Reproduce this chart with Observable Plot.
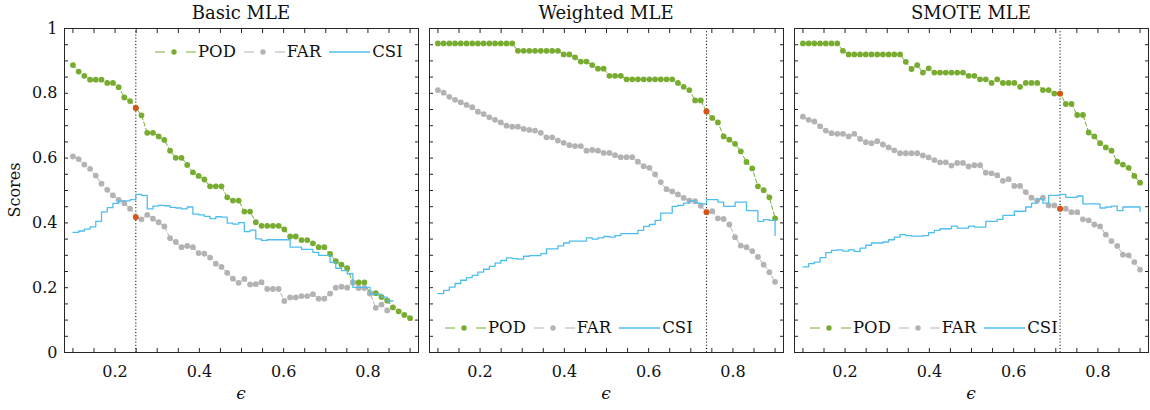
<!DOCTYPE html>
<html>
<head>
<meta charset="utf-8">
<script src="https://cdn.jsdelivr.net/npm/d3@7"></script>
<script src="https://cdn.jsdelivr.net/npm/@observablehq/plot@0.6"></script>
<style>
  body { margin: 0; background: #fff; }
  #wrap { position: relative; width: 1150px; height: 410px; font-family: "DejaVu Serif", serif; color: #111; overflow: hidden; }
  .panel { position: absolute; top: 0; }
  .title { position: absolute; top: 0; font-size: 18px; line-height: 26px; transform: translateX(-50%); white-space: nowrap; }
  .xlab { position: absolute; top: 383px; font-family: "DejaVu Serif", serif; font-style: italic; font-size: 17px; line-height: 20px; transform: translateX(-50%); }
  .ylab { position: absolute; left: 15px; top: 190px; font-size: 16px; line-height: 20px; transform: translate(-50%, -50%) rotate(-90deg); white-space: nowrap; }
  .leg { position: absolute; display: flex; align-items: center; font-size: 16.5px; line-height: 22px; white-space: nowrap; }
  .leg .item { display: flex; align-items: center; margin-right: 8px; }
  .leg svg { margin-right: 2px; }
</style>
</head>
<body>
<div id="wrap"></div>
<script>
// ---------- data ----------
const eps = [0.1000,0.1136,0.1271,0.1407,0.1542,0.1678,0.1814,0.1949,0.2085,0.2220,
  0.2356,0.2492,0.2627,0.2763,0.2898,0.3034,0.3169,0.3305,0.3441,0.3576,
  0.3712,0.3847,0.3983,0.4119,0.4254,0.4390,0.4525,0.4661,0.4797,0.4932,
  0.5068,0.5203,0.5339,0.5475,0.5610,0.5746,0.5881,0.6017,0.6153,0.6288,
  0.6424,0.6559,0.6695,0.6831,0.6966,0.7102,0.7237,0.7373,0.7508,0.7644,
  0.7780,0.7915,0.8051,0.8186,0.8322,0.8458,0.8593,0.8729,0.8864,0.9000];

const titles = ["Basic MLE", "Weighted MLE", "SMOTE MLE"];
const seriesNames = ["POD", "FAR", "CSI"];
const selectedEps = [0.2492, 0.7373, 0.7102];

const podBasic = [0.887,0.867,0.854,0.842,0.842,0.842,0.832,0.832,0.819,0.787,
  0.776,0.755,0.732,0.678,0.678,0.667,0.656,0.623,0.601,0.601,
  0.579,0.556,0.545,0.534,0.513,0.513,0.513,0.479,0.469,0.469,
  0.435,0.435,0.402,0.391,0.391,0.391,0.391,0.380,0.358,0.358,
  0.347,0.347,0.337,0.325,0.325,0.304,0.282,0.271,0.260,0.216,
  0.216,0.216,0.183,0.183,0.171,0.160,0.139,0.127,0.116,0.106];
const farBasic = [0.605,0.597,0.580,0.567,0.546,0.521,0.502,0.485,0.471,0.461,
  0.444,0.418,0.411,0.425,0.413,0.402,0.389,0.353,0.341,0.325,
  0.329,0.325,0.307,0.305,0.293,0.274,0.264,0.246,0.228,0.215,
  0.227,0.210,0.211,0.217,0.196,0.196,0.196,0.159,0.170,0.170,
  0.174,0.174,0.180,0.166,0.166,0.182,0.200,0.203,0.200,0.216,
  0.199,0.199,0.182,0.138,0.148,0.130,null,null,null,null];
const csiBasic = [0.371,0.375,0.381,0.388,0.405,0.434,0.447,0.460,0.468,0.468,
  0.472,0.488,0.485,0.443,0.452,0.454,0.453,0.448,0.446,0.443,
  0.449,0.427,0.425,0.420,0.413,0.419,0.418,0.399,0.396,0.401,
  0.373,0.378,0.351,0.346,0.348,0.348,0.348,0.348,0.325,0.325,
  0.318,0.318,0.309,0.300,0.300,0.278,0.260,0.253,0.243,0.201,
  0.201,0.201,0.180,0.180,0.171,0.159,0.159,null,null,null];

const podWeighted = [0.954,0.954,0.954,0.954,0.954,0.954,0.954,0.954,0.954,0.954,
  0.954,0.954,0.954,0.954,0.931,0.931,0.931,0.931,0.931,0.931,
  0.931,0.931,0.920,0.920,0.911,0.898,0.898,0.887,0.876,0.876,
  0.854,0.854,0.854,0.843,0.843,0.843,0.843,0.843,0.843,0.843,
  0.843,0.843,0.832,0.820,0.810,0.778,0.778,0.744,0.724,0.710,
  0.667,0.657,0.644,0.621,0.588,0.568,0.513,0.501,0.479,0.414];
const farWeighted = [0.810,0.802,0.789,0.780,0.772,0.764,0.757,0.743,0.736,0.726,
  0.718,0.710,0.700,0.697,0.697,0.690,0.687,0.685,0.678,0.664,
  0.664,0.654,0.647,0.640,0.637,0.637,0.623,0.625,0.623,0.616,
  0.616,0.609,0.603,0.603,0.603,0.589,0.575,0.570,0.550,0.526,
  0.504,0.497,0.488,0.477,0.469,0.467,0.453,0.433,0.436,0.414,
  0.412,0.395,0.356,0.330,0.325,0.313,0.295,0.271,0.248,0.218];
const csiWeighted = [0.182,0.192,0.202,0.213,0.223,0.231,0.238,0.248,0.257,0.266,
  0.276,0.284,0.292,0.290,0.288,0.297,0.299,0.299,0.305,0.320,
  0.320,0.329,0.338,0.344,0.344,0.344,0.354,0.350,0.354,0.358,
  0.356,0.361,0.367,0.367,0.367,0.377,0.389,0.395,0.408,0.430,
  0.430,0.451,0.454,0.461,0.469,0.461,0.459,0.472,0.472,0.464,
  0.451,0.451,0.464,0.464,0.438,0.438,0.405,0.410,0.408,0.361];

const podSmote = [0.954,0.954,0.954,0.954,0.954,0.954,0.954,0.931,0.920,0.920,
  0.920,0.920,0.920,0.920,0.920,0.920,0.920,0.920,0.897,0.875,
  0.887,0.864,0.877,0.864,0.864,0.864,0.864,0.864,0.864,0.854,
  0.854,0.843,0.843,0.832,0.843,0.832,0.832,0.832,0.820,0.832,
  0.832,0.832,0.810,0.810,0.799,0.799,0.767,0.767,0.733,0.733,
  0.679,0.667,0.646,0.633,0.623,0.589,0.580,0.570,0.545,0.524];
const farSmote = [0.728,0.718,0.713,0.698,0.685,0.677,0.675,0.675,0.667,0.675,
  0.659,0.649,0.646,0.652,0.642,0.633,0.624,0.615,0.615,0.615,
  0.615,0.608,0.602,0.594,0.587,0.587,0.577,0.585,0.585,0.574,
  0.578,0.578,0.555,0.553,0.547,0.530,0.535,0.514,0.514,0.495,
  0.478,0.469,0.478,0.454,0.454,0.444,0.444,0.433,0.433,0.411,
  0.408,0.395,0.389,0.364,0.344,0.329,0.302,0.300,0.279,0.256];
const csiSmote = [0.264,0.274,0.279,0.293,0.308,0.315,0.317,0.313,0.317,0.312,
  0.322,0.331,0.338,0.338,0.341,0.348,0.356,0.364,0.361,0.359,
  0.359,0.361,0.370,0.377,0.382,0.382,0.390,0.384,0.384,0.390,
  0.387,0.387,0.405,0.405,0.411,0.423,0.423,0.436,0.436,0.449,
  0.461,0.474,0.461,0.485,0.485,0.488,0.479,0.479,0.483,0.459,
  0.459,0.459,0.446,0.449,0.452,0.438,0.449,0.449,0.449,0.436];

const xTicks = [0.1,0.15,0.2,0.25,0.3,0.35,0.4,0.45,0.5,0.55,0.6,0.65,0.7,0.75,0.8,0.85,0.9];
const xTickLabels = [0.2,0.4,0.6,0.8];
const yTicks = [0,0.05,0.1,0.15,0.2,0.25,0.3,0.35,0.4,0.45,0.5,0.55,0.6,0.65,0.7,0.75,0.8,0.85,0.9,0.95,1];
const yTickLabels = [0,0.2,0.4,0.6,0.8,1];

// ---------- styles / layout ----------
const GREEN = "#77AC30", GREY = "#B3B3B3", BLUE = "#4DBEEE", RED = "#D95319", AX = "#262626";
const FONT = "DejaVu Serif, serif";
const FRAME_W = 354;
const layout = [
  {svgLeft: 0,   ml: 64, mr: 6,   legLeft: 155, legTop: 41},
  {svgLeft: 424, ml: 5,  mr: 6,   legLeft: 445, legTop: 317},
  {svgLeft: 789, ml: 5,  mr: 1.5, legLeft: 810, legTop: 317}
];
const panels = [
  {pod: podBasic, far: farBasic, csi: csiBasic},
  {pod: podWeighted, far: farWeighted, csi: csiWeighted},
  {pod: podSmote, far: farSmote, csi: csiSmote}
];

const wrap = document.getElementById("wrap");
const plain = d => `${d}`;

panels.forEach((p, k) => {
  const L = layout[k];
  const rows = eps.map((e, i) => ({e, pod: p.pod[i], far: p.far[i], csi: p.csi[i]}));
  const sel = rows.filter(r => r.e === selectedEps[k]);
  const chart = Plot.plot({
    width: L.ml + FRAME_W + L.mr,
    height: 410,
    marginLeft: L.ml, marginRight: L.mr, marginTop: 28, marginBottom: 58,
    x: {domain: [0.08, 0.92]},
    y: {domain: [0, 1]},
    style: {fontFamily: FONT, fontSize: "16px", color: AX, background: "transparent", overflow: "visible"},
    marks: [
      Plot.ruleX([selectedEps[k]], {stroke: "#000", strokeWidth: 1.1, strokeDasharray: "1,2.2"}),
      Plot.line(rows, {x: "e", y: "pod", stroke: GREEN, strokeWidth: 1, strokeDasharray: "4,2.5"}),
      Plot.dot(rows, {x: "e", y: "pod", r: 2.9, fill: GREEN}),
      Plot.line(rows, {x: "e", y: "far", stroke: GREY, strokeWidth: 1, strokeDasharray: "4,2.5"}),
      Plot.dot(rows, {x: "e", y: "far", r: 2.9, fill: GREY}),
      Plot.line(rows, {x: "e", y: "csi", curve: "step-after", stroke: BLUE, strokeWidth: 1.3}),
      Plot.dot(sel, {x: "e", y: "pod", r: 2.9, fill: RED}),
      Plot.dot(sel, {x: "e", y: "far", r: 2.9, fill: RED}),
      Plot.frame({stroke: AX, strokeWidth: 1}),
      Plot.axisX(xTicks, {anchor: "bottom", tickSize: -4, tickFormat: () => "", label: null, stroke: AX}),
      Plot.axisX(xTicks, {anchor: "top", tickSize: -4, tickFormat: () => "", label: null, stroke: AX}),
      Plot.axisX(xTickLabels, {anchor: "bottom", tickSize: 0, tickPadding: 13, tickFormat: plain, label: null, fill: "#111", fontSize: 16}),
      Plot.axisY(yTicks, {anchor: "left", tickSize: -4, tickFormat: () => "", label: null, stroke: AX}),
      Plot.axisY(yTicks, {anchor: "right", tickSize: -4, tickFormat: () => "", label: null, stroke: AX}),
      ...(k === 0 ? [Plot.axisY(yTickLabels, {anchor: "left", tickSize: 0, tickPadding: 7, tickFormat: plain, label: null, fill: "#111", fontSize: 16})] : [])
    ]
  });
  chart.classList.add("panel");
  chart.style.left = L.svgLeft + "px";
  wrap.appendChild(chart);

  const cx = L.svgLeft + L.ml + FRAME_W / 2;
  const t = document.createElement("div");
  t.className = "title"; t.textContent = titles[k]; t.style.left = cx + "px";
  wrap.appendChild(t);

  const xl = document.createElement("div");
  xl.className = "xlab"; xl.textContent = "\u03F5"; xl.style.left = cx + "px";
  wrap.appendChild(xl);

  // legend
  const leg = document.createElement("div");
  leg.className = "leg"; leg.style.left = L.legLeft + "px"; leg.style.top = L.legTop + "px";
  const sw = [
    `<svg width="41" height="12"><line x1="0" x2="41" y1="6" y2="6" stroke="${GREEN}" stroke-width="1" stroke-dasharray="10,21"/><circle cx="19" cy="6" r="2.7" fill="${GREEN}"/></svg>`,
    `<svg width="41" height="12"><line x1="0" x2="41" y1="6" y2="6" stroke="${GREY}" stroke-width="1" stroke-dasharray="10,21"/><circle cx="19" cy="6" r="2.7" fill="${GREY}"/></svg>`,
    `<svg width="41" height="12"><line x1="0" x2="41" y1="6" y2="6" stroke="${BLUE}" stroke-width="1.3"/></svg>`
  ];
  leg.innerHTML = seriesNames.map((n, i) => `<span class="item">${sw[i]}<span>${n}</span></span>`).join("");
  wrap.appendChild(leg);
});

const yl = document.createElement("div");
yl.className = "ylab"; yl.textContent = "Scores";
wrap.appendChild(yl);
</script>
</body>
</html>
